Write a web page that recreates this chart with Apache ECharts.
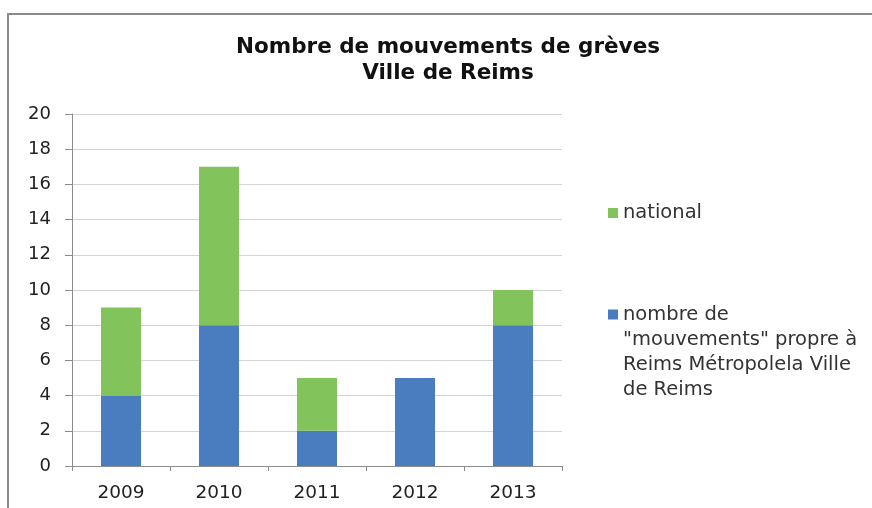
<!DOCTYPE html>
<html>
<head>
<meta charset="utf-8">
<script src="https://cdn.jsdelivr.net/npm/echarts@6/dist/echarts.min.js"></script>
<style>
    html, body { margin: 0; padding: 0; background: #fff; }
    #chart { width: 872px; height: 508px; }
</style>
</head>
<body>
<div id="chart"></div>
<script>
    // données
    const years = ['2009', '2010', '2011', '2012', '2013']
    const reimsValues = [4, 8, 2, 5, 8]
    const nationalValues = [5, 9, 3, 0, 2]
    const yTicks = {min: 0, max: 20, interval: 2}

    const FONT = '"DejaVu Sans", Verdana, sans-serif'
    const BLUE = '#4a7dbf'
    const GREEN = '#82c35c'

    const chart = echarts.init(document.getElementById('chart'))
    chart.setOption({
        animation: false,
        title: {
            text: 'Nombre de mouvements de grèves\nVille de Reims',
            left: 443,
            top: 29,
            textAlign: 'center',
            textStyle: {
                fontFamily: FONT,
                fontWeight: 'bold',
                fontSize: 21.5,
                lineHeight: 26,
                color: '#111'
            }
        },
        // cadre gris en haut et à gauche
        graphic: [{
            type: 'rect',
            shape: {x: 8, y: 14, width: 900, height: 600},
            style: {fill: 'none', stroke: '#8a8a8a', lineWidth: 2}
        }],
        legend: [
            {
                data: ['national'],
                left: 603,
                top: 198,
                itemWidth: 10,
                itemHeight: 10,
                itemGap: 10,
                icon: 'rect',
                textStyle: {fontFamily: FONT, fontSize: 19.5, color: '#333'}
            },
            {
                data: ['reims'],
                left: 603,
                top: 222,
                itemWidth: 10,
                itemHeight: 10,
                icon: 'rect',
                // lignes vides devant : l'icône reste alignée sur la première ligne
                formatter: () => '\n\n\nnombre de\n"mouvements" propre à\nReims Métropolela Ville\nde Reims',
                textStyle: {fontFamily: FONT, fontSize: 19.5, color: '#333', lineHeight: 25}
            }
        ],
        grid: {left: 72, right: 310, top: 114, bottom: 42, containLabel: false},
        xAxis: {
            type: 'category',
            data: years,
            axisLine: {lineStyle: {color: '#8c8c8c', width: 1}},
            axisTick: {show: true, length: 5, lineStyle: {color: '#8c8c8c'}},
            axisLabel: {fontFamily: FONT, fontSize: 18.5, color: '#222', margin: 18}
        },
        yAxis: {
            type: 'value',
            min: yTicks.min,
            max: yTicks.max,
            interval: yTicks.interval,
            axisLine: {show: true, lineStyle: {color: '#8c8c8c', width: 1}},
            axisTick: {show: true, length: 7, lineStyle: {color: '#8c8c8c'}},
            axisLabel: {fontFamily: FONT, fontSize: 18, color: '#222', margin: 21},
            splitLine: {lineStyle: {color: '#d4d4d4', width: 1}}
        },
        series: [
            {
                name: 'reims',
                type: 'bar',
                stack: 'total',
                barWidth: 40,
                data: reimsValues,
                itemStyle: {color: BLUE}
            },
            {
                name: 'national',
                type: 'bar',
                stack: 'total',
                barWidth: 40,
                data: nationalValues,
                itemStyle: {color: GREEN}
            }
        ]
    })
</script>
</body>
</html>
